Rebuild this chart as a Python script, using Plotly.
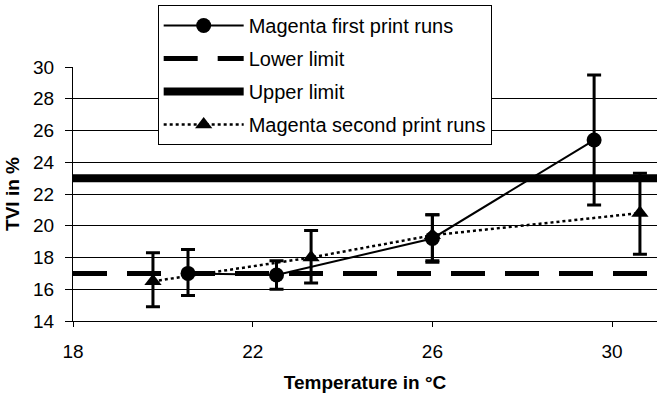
import plotly.graph_objects as go

# data
temp_first = [20.56, 22.53, 26.0, 29.6]
tvi_first = [17.0, 16.9, 19.2, 25.4]
err_first_up = [1.5, 0.9, 1.5, 4.1]
err_first_down = [1.4, 0.9, 1.5, 4.1]

temp_second = [19.78, 23.3, 26.0, 30.62]
tvi_second = [16.5, 18.0, 19.4, 20.8]
err_second_up = [1.8, 1.7, 1.3, 2.5]
err_second_down = [1.6, 1.6, 1.6, 2.6]

limit_x = [18, 31]
lower_limit = [17, 17]
upper_limit = [23, 23]

x_ticks = [18, 22, 26, 30]
y_ticks = [14, 16, 18, 20, 22, 24, 26, 28, 30]

FONT = "Liberation Sans, Arial, sans-serif"

fig = go.Figure()
fig.add_trace(go.Scatter(
    x=temp_first, y=tvi_first, name="Magenta first print runs",
    legendgroup="a",
    mode="lines+markers",
    line=dict(color="black", width=2),
    marker=dict(symbol="circle", size=15, color="black"),
    error_y=dict(type="data", array=err_first_up, arrayminus=err_first_down,
                 color="black", thickness=3, width=7),
))
fig.add_trace(go.Scatter(
    x=limit_x, y=lower_limit, name="Lower limit", mode="lines",
    legendgroup="b",
    line=dict(color="black", width=5, dash="34px,20px"),
))
fig.add_trace(go.Scatter(
    x=limit_x, y=upper_limit, name="Upper limit", mode="lines",
    legendgroup="c",
    line=dict(color="black", width=8),
))
fig.add_trace(go.Scatter(
    x=temp_second, y=tvi_second, name="Magenta second print runs",
    legendgroup="d",
    mode="lines+markers",
    line=dict(color="black", width=2.5, dash="dot"),
    marker=dict(symbol="triangle-up", size=15, color="black"),
    error_y=dict(type="data", array=err_second_up, arrayminus=err_second_down,
                 color="black", thickness=3, width=7),
))

fig.update_layout(
    width=657, height=397,
    margin=dict(l=73, r=0, t=67, b=76),
    paper_bgcolor="white", plot_bgcolor="white",
    font=dict(family=FONT, color="black", size=19),
    showlegend=True,
    legend=dict(
        x=0.145, y=1.244, xanchor="left", yanchor="top",
        bgcolor="white", bordercolor="black", borderwidth=1,
        font=dict(size=20), itemwidth=80, tracegroupgap=4,
    ),
    xaxis=dict(
        range=[18, 31], tickvals=x_ticks, showgrid=False,
        showline=True, linecolor="black", linewidth=1,
        ticks="outside", ticklen=5, tickcolor="black",
        ticklabelstandoff=8,
        zeroline=False,
        title=dict(text="<b>Temperature in °C</b>", font=dict(size=19), standoff=14),
    ),
    yaxis=dict(
        range=[14, 30], tickvals=y_ticks, showgrid=True,
        gridcolor="black", gridwidth=1,
        showline=True, linecolor="black", linewidth=1,
        ticks="outside", ticklen=7, tickcolor="black",
        ticklabelstandoff=7,
        zeroline=False,
        title=dict(text="<b>TVI in %</b>", font=dict(size=19), standoff=8),
    ),
)

fig.write_html("out.html")
